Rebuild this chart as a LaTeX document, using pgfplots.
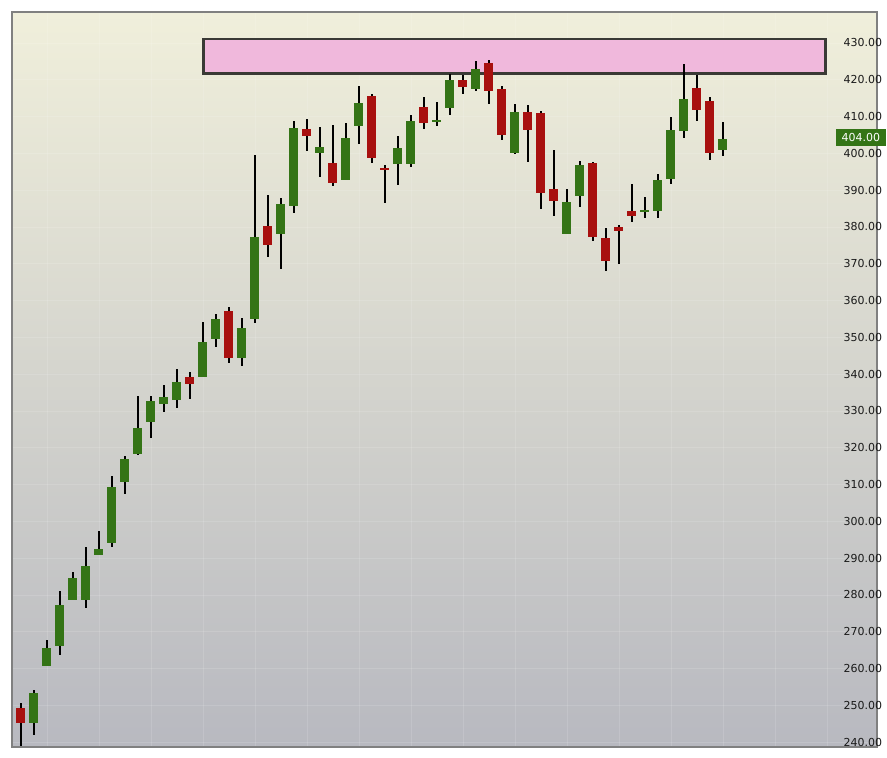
\documentclass[border=0pt]{standalone}
\usepackage{pgfplots}
\usepackage{pgfplotstable}
\pgfplotsset{compat=1.18}
\usepackage{fontspec}
\setmainfont{DejaVu Sans}
\definecolor{bgtop}{RGB}{240,239,219}
\definecolor{bgbot}{RGB}{184,185,192}
\definecolor{cgreen}{RGB}{52,116,22}
\definecolor{cred}{RGB}{168,16,15}
\definecolor{boxfill}{RGB}{240,184,220}
\definecolor{boxline}{RGB}{58,58,54}
\definecolor{framec}{RGB}{128,128,128}
\definecolor{lblc}{RGB}{25,25,25}

% index open high low close
\pgfplotstableread{
x O H L C
1 245.3 254.2 242.0 253.4
2 260.8 267.8 260.8 265.6
3 266.2 281.1 263.8 277.3
4 278.7 286.2 278.7 284.6
5 278.7 293.0 276.6 287.9
6 291.0 297.4 291.0 292.5
7 294.2 312.3 293.1 309.3
8 310.8 317.8 307.5 317.0
9 318.4 334.1 318.0 325.4
10 327.1 334.1 322.7 332.7
11 332.0 337.1 329.8 333.8
12 333.1 341.4 330.9 337.9
14 339.3 354.2 339.3 348.7
15 349.6 356.4 347.5 355.0
17 344.5 355.3 342.3 352.6
18 355.1 399.6 354.0 377.3
20 378.2 387.9 368.7 386.2
21 385.8 408.8 383.9 406.9
23 400.2 407.2 393.7 401.7
25 392.8 408.3 392.8 404.2
26 407.5 418.3 402.6 413.7
29 397.2 404.7 391.5 401.5
30 397.2 410.4 396.4 408.8
32 408.6 414.0 407.5 409.1
33 412.4 421.6 410.5 419.9
35 417.6 425.1 417.0 422.9
38 400.2 413.4 399.9 411.3
42 378.2 390.3 378.2 386.8
43 388.5 397.9 385.5 396.8
48 384.1 388.2 382.3 384.6
49 384.4 394.4 382.3 392.8
50 393.1 409.9 391.8 406.4
51 406.2 424.3 404.3 414.8
54 400.9 408.5 399.4 404.0
}\greendata

\pgfplotstableread{
x O H L C
0 249.3 250.7 239.1 245.3
13 339.2 340.6 333.3 337.4
16 357.2 358.3 342.9 344.5
19 380.3 388.7 371.7 375.2
22 406.6 409.3 400.7 404.8
24 397.4 407.7 391.0 392.0
27 415.6 416.1 397.5 398.6
28 396.0 396.8 386.6 395.5
31 412.6 415.3 406.7 408.3
34 419.9 421.2 416.0 418.1
36 424.6 425.4 413.5 417.0
37 417.5 418.3 403.7 405.1
39 411.3 413.2 397.7 406.4
40 411.0 411.5 385.0 389.3
41 390.3 400.9 383.1 387.1
44 397.4 397.7 376.3 377.4
45 377.0 379.7 368.1 370.8
46 380.0 380.5 370.0 379.0
47 384.3 391.7 381.4 383.1
52 417.8 421.3 408.9 411.9
53 414.2 415.3 398.3 400.2
}\reddata

\begin{document}
\begin{tikzpicture}[x=1pt,y=1pt]
\path[use as bounding box, fill=white] (-12,-11) rectangle (875,747);
\begin{axis}[
  at={(0,0)}, anchor=south west,
  scale only axis, width=865pt, height=735pt,
  xmin=-0.69, xmax=65.85, ymin=238.7, ymax=438.4,
  clip mode=individual,
  axis background/.style={shade, top color=bgtop, bottom color=bgbot},
  axis line style={draw=framec, line width=1.2pt},
  xtick={2,6,...,62}, xticklabels={},
  ytick={240,250,...,430},
  yticklabel pos=right,
  tick style={draw=none},
  xmajorgrids, ymajorgrids,
  major grid style={draw=white, opacity=0.13, line width=0.8pt},
  /pgf/number format/assume math mode=true,
  yticklabel={\pgfmathprintnumber[fixed, fixed zerofill, precision=2]{\tick}},
  yticklabel style={anchor=west, xshift=-33.5pt, inner sep=0pt, font=\fontsize{11}{13}\selectfont, text=lblc},
]
% target zone
\draw[fill=boxfill, draw=boxline, line width=2.6pt] (axis cs:14.04,421.7) rectangle (axis cs:61.9,431.1);
% wicks
\addplot[draw=none, mark=none, forget plot,
  error bars/.cd, y dir=both, y explicit, error mark=none,
  error bar style={draw=black, line width=1.4pt}]
  table[x=x, y expr=(\thisrow{H}+\thisrow{L})/2, y error expr=(\thisrow{H}-\thisrow{L})/2] {\greendata};
\addplot[draw=none, mark=none, forget plot,
  error bars/.cd, y dir=both, y explicit, error mark=none,
  error bar style={draw=black, line width=1.4pt}]
  table[x=x, y expr=(\thisrow{H}+\thisrow{L})/2, y error expr=(\thisrow{H}-\thisrow{L})/2] {\reddata};
% bodies
\addplot[draw=none, mark=none, forget plot,
  error bars/.cd, y dir=both, y explicit, error mark=none,
  error bar style={draw=cgreen, line width=9pt}]
  table[x=x, y expr=(\thisrow{O}+\thisrow{C})/2, y error expr=abs(\thisrow{C}-\thisrow{O})/2] {\greendata};
\addplot[draw=none, mark=none, forget plot,
  error bars/.cd, y dir=both, y explicit, error mark=none,
  error bar style={draw=cred, line width=9pt}]
  table[x=x, y expr=(\thisrow{O}+\thisrow{C})/2, y error expr=abs(\thisrow{C}-\thisrow{O})/2] {\reddata};
% last price label
\fill[cgreen] (axis cs:62.69,402.0) rectangle (axis cs:66.54,406.6);
\node[anchor=west, inner sep=0pt, text=white, font=\fontsize{11}{13}\selectfont] at (axis cs:63.12,404.3) {404.00};
\end{axis}
\end{tikzpicture}
\end{document}
